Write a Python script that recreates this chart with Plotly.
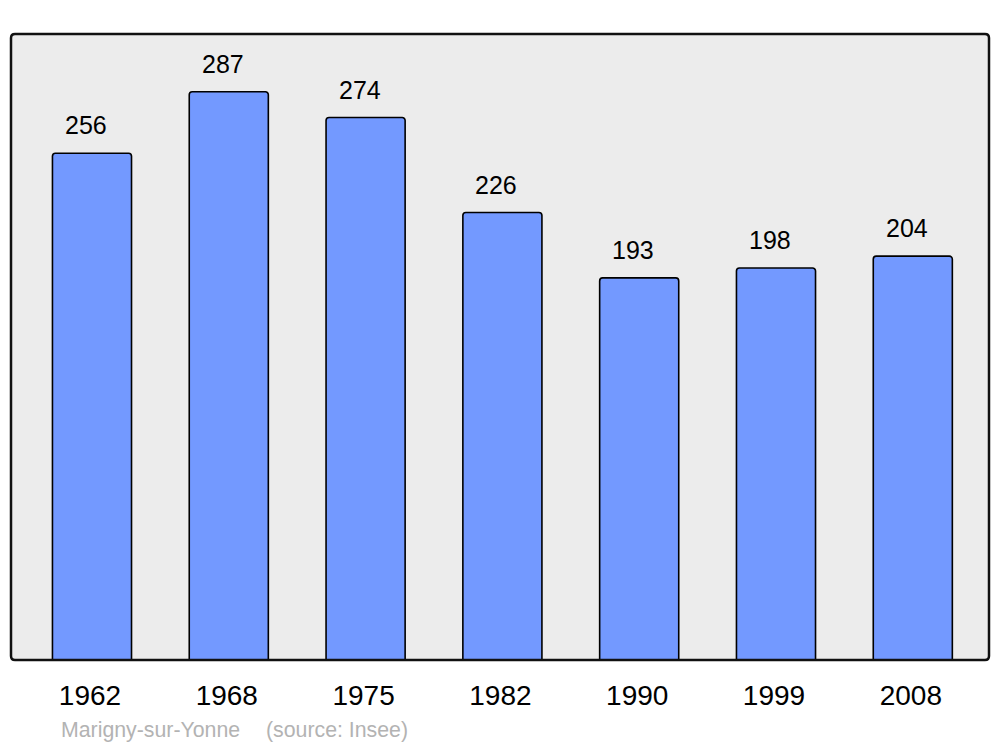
import plotly.graph_objects as go

years = ["1962", "1968", "1975", "1982", "1990", "1999", "2008"]
population = [256, 287, 274, 226, 193, 198, 204]
commune = "Marigny-sur-Yonne"
source = "(source: Insee)"

W, H = 1000, 747
ml, mr, mt, mb = 11, 11, 34, 87
FONT = "Liberation Sans, Arial, sans-serif"

fig = go.Figure()
fig.add_trace(go.Bar(
    x=years, y=population, width=0.578,
    marker=dict(color="#7399ff", line=dict(color="#000000", width=1.6)),
    hoverinfo="skip",
))

for i, v in enumerate(population):
    fig.add_annotation(x=i, y=v, text=str(v), showarrow=False,
                       xanchor="center", yanchor="middle", xshift=-6, yshift=28,
                       font=dict(family=FONT, size=25, color="#000000"))

# rounded frame
pw, ph = W - ml - mr, H - mt - mb
rx, ry = 4 / pw, 4 / ph
path = (f"M {rx},0 L {1-rx},0 Q 1,0 1,{ry} L 1,{1-ry} Q 1,1 {1-rx},1 "
        f"L {rx},1 Q 0,1 0,{1-ry} L 0,{ry} Q 0,0 {rx},0 Z")
fig.add_shape(type="path", xref="paper", yref="paper", path=path,
              line=dict(color="#111111", width=2.5), layer="above")

fig.add_annotation(xref="paper", yref="paper", x=(59 - ml) / pw, y=-(730 - 660) / ph,
                   text=commune, showarrow=False, xanchor="left", yanchor="middle",
                   font=dict(family=FONT, size=21.3, color="#b3b3b3"))
fig.add_annotation(xref="paper", yref="paper", x=(264 - ml) / pw, y=-(730 - 660) / ph,
                   text=source, showarrow=False, xanchor="left", yanchor="middle",
                   font=dict(family=FONT, size=21.3, color="#b3b3b3"))

fig.update_layout(
    width=W, height=H,
    margin=dict(l=ml, r=mr, t=mt, b=mb, pad=0),
    paper_bgcolor="#ffffff", plot_bgcolor="#ececec",
    showlegend=False, barcornerradius=3,
    xaxis=dict(type="category", range=[-0.592, 6.557], showgrid=False, zeroline=False,
               showline=False, ticks="", ticklabelstandoff=16, ticklabelshift=-2,
               tickfont=dict(family=FONT, size=28, color="#000000")),
    yaxis=dict(range=[0, 316.2], showgrid=False, zeroline=False, showline=False,
               showticklabels=False, ticks=""),
)

fig.write_html("out.html", config={"displayModeBar": False},
               post_script="document.body.style.margin='0';document.body.style.padding='0';")
